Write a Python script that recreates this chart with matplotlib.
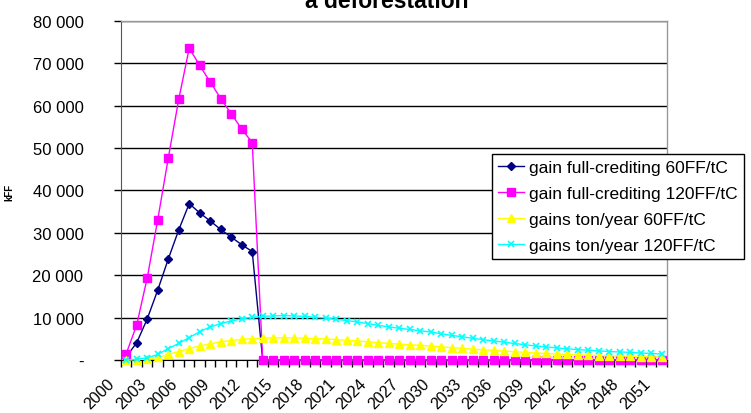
import matplotlib
matplotlib.use("Agg")
import matplotlib.pyplot as plt
import matplotlib.transforms as mtransforms
from matplotlib.ticker import FixedLocator, FuncFormatter
import numpy as np

years = list(range(2000, 2052))

full_60 = [750, 4100, 9700, 16500, 23800, 30700, 36900, 34700, 32800, 30800,
           29000, 27200, 25600] + [0] * 39
full_120 = [1500, 8300, 19400, 33100, 47600, 61500, 73600, 69500, 65600, 61700,
            58100, 54500, 51300] + [0] * 39
ton_60 = [0, 100, 250, 600, 1300, 2000, 2700, 3300, 3800, 4300,
          4600, 4850, 5050, 5150, 5200, 5250, 5200, 5150, 5050, 4950,
          4800, 4650, 4500, 4300, 4100, 3900, 3750, 3600, 3450, 3300,
          3100, 2900, 2750, 2550, 2400, 2250, 2100, 1950, 1800, 1650,
          1550, 1400, 1300, 1200, 1150, 1050, 1000, 950, 900, 800,
          750, 700]
ton_120 = [0, 200, 500, 1300, 2700, 3900, 5300, 6700, 7800, 8600,
           9200, 9700, 10100, 10300, 10400, 10500, 10400, 10300, 10100, 9900,
           9600, 9300, 9000, 8600, 8200, 7800, 7500, 7200, 6900, 6600,
           6200, 5800, 5500, 5100, 4800, 4500, 4200, 3900, 3600, 3300,
           3100, 2850, 2650, 2450, 2300, 2150, 2000, 1900, 1800, 1650,
           1550, 1400]

series_labels = ["gain full-crediting 60FF/tC", "gain full-crediting 120FF/tC",
                 "gains ton/year 60FF/tC", "gains ton/year 120FF/tC"]
y_ticks = list(range(0, 80001, 10000))

plt.rcParams['font.family'] = ['Liberation Sans', 'DejaVu Sans']

fig = plt.figure(figsize=(7.51, 4.14), dpi=100)
ax = fig.add_axes([0.1611, 0.128, 0.727, 0.8189])

x = np.arange(len(years))
styles = [
    dict(color="#000080", marker="D", markersize=4.5),
    dict(color="#FF00FF", marker="s", markersize=5.5),
    dict(color="#FFFF00", marker="^", markersize=6),
    dict(color="#00FFFF", marker="x", markersize=5, markeredgewidth=1.2),
]
handles = []
for vals, lab, st in zip([full_60, full_120, ton_60, ton_120], series_labels, styles):
    h, = ax.plot(x, vals, linewidth=1.0, label=lab, zorder=3, clip_on=False, **st)
    handles.append(h)

ax.set_xlim(-0.5, len(years) - 0.5)
ax.set_ylim(0, 80000)

ax.set_yticks(y_ticks)
ax.yaxis.set_major_formatter(FuncFormatter(
    lambda v, p: "-" if v == 0 else f"{int(v):,}".replace(",", " ")))
ax.grid(axis="y", color="black", linewidth=1.0, zorder=1)
ax.tick_params(axis="y", direction="out", length=5, width=1, labelsize=12, pad=22)

# category labels every three years, boundary tick marks between categories
ax.set_xticks(x[::3])
ax.set_xticklabels([str(y) for y in years[::3]])
ax.xaxis.set_minor_locator(FixedLocator(np.arange(-0.5, len(years), 1.0)))
ax.tick_params(axis="x", which="major", length=0, labelsize=11.5, pad=15)
ax.tick_params(axis="x", which="minor", direction="out", length=5, width=1)
offset = mtransforms.ScaledTranslation(-14 / 100, 0, fig.dpi_scale_trans)
for lbl in ax.get_xticklabels():
    lbl.set_rotation(45)
    lbl.set_ha("right")
    lbl.set_va("center")
    lbl.set_rotation_mode("anchor")
    lbl.set_transform(lbl.get_transform() + offset)

for side in ["top", "right"]:
    ax.spines[side].set_color("#999999")
    ax.spines[side].set_linewidth(1.0)
ax.spines["left"].set_color("#555555")
ax.spines["bottom"].set_color("black")

ax.set_ylabel("kFF", fontsize=7, fontweight="bold")
ax.yaxis.set_label_coords(-0.196, 0.496)

fig.text(0.515, 0.997, "a deforestation", ha="center", va="center",
         fontsize=16.5, fontweight="bold")

leg = fig.legend(handles=handles, loc="upper left",
                 bbox_to_anchor=(0.655, 0.626), fontsize=12.5, frameon=True,
                 fancybox=False, edgecolor="black", framealpha=1,
                 borderpad=0.35, labelspacing=0.62, handlelength=1.5,
                 handletextpad=0.3, borderaxespad=0)
leg.get_frame().set_linewidth(1.0)

fig.savefig("out.png", dpi=100)
